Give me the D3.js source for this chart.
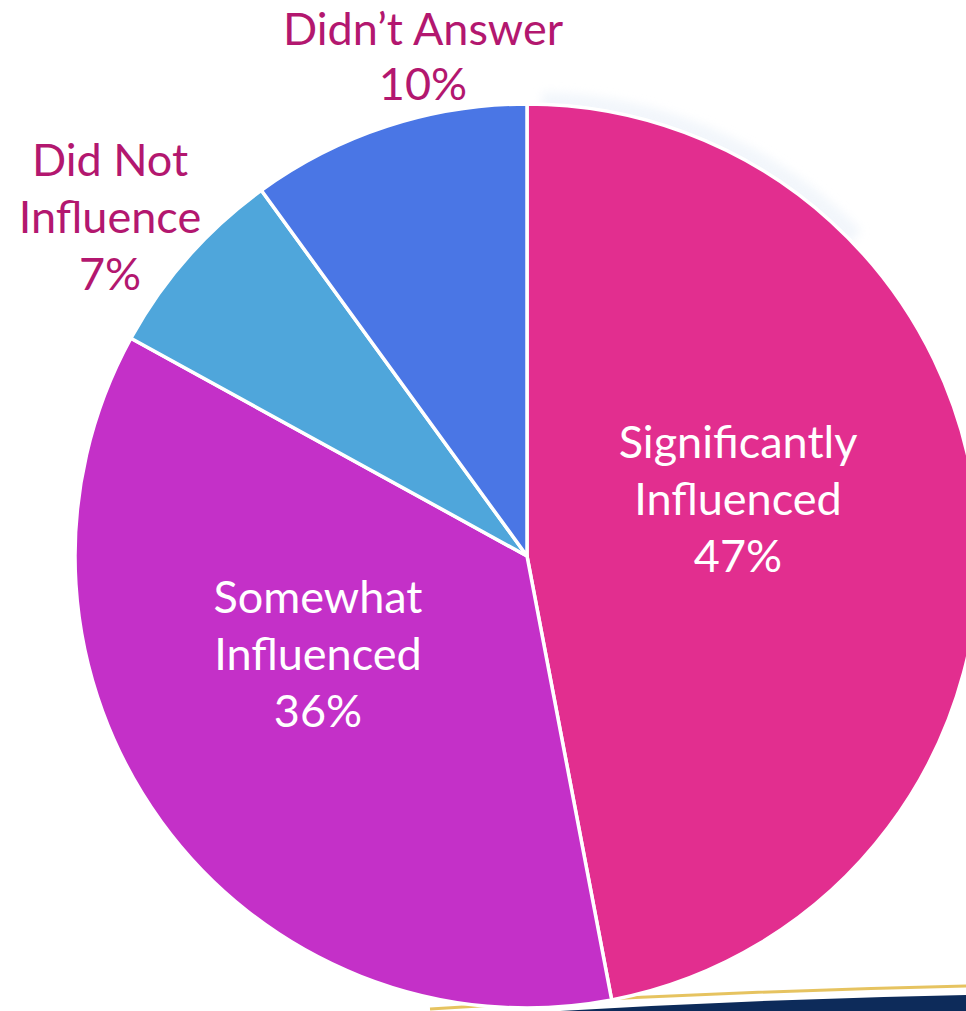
<!DOCTYPE html>
<html>
<head>
<meta charset="utf-8">
<script src="https://cdn.jsdelivr.net/npm/d3@7"></script>
<style>
  html, body { margin: 0; padding: 0; background: #fff; overflow: hidden; }
  svg { display: block; }
</style>
</head>
<body>
<div id="chart"></div>
<script>
// --- data ---------------------------------------------------------------
const categories = ['Significantly Influenced', 'Somewhat Influenced', 'Did Not Influence', "Didn't Answer"];
const shares = [47, 36, 7, 10];
const labelLines = [
    ['Significantly', 'Influenced'],
    ['Somewhat', 'Influenced'],
    ['Did Not', 'Influence'],
    ['Didn\u2019t Answer']
];

// --- layout -------------------------------------------------------------
const width = 966;
const height = 1011;
const cx = 527, cy = 556, radius = 452;
const colors = ['#e22e8f', '#c430c8', '#4fa6db', '#4a76e5'];
const inside = [true, true, false, false];
// label anchor (x of centre, baseline of first line), relative to pie centre
const labelPos = [[211, -98], [-209, 57], [-417, -380], [-104, -511]];
const lineGap = [57, 57, 57, 55];

const mySVG = d3.select('#chart')
    .append('svg')
        .attr('width', width)
        .attr('height', height)
        .attr('viewBox', [0, 0, width, height]);

const defs = mySVG.append('defs');
defs.append('filter')
        .attr('id', 'blur')
        .attr('x', '-20%').attr('y', '-20%')
        .attr('width', '140%').attr('height', '140%')
    .append('feGaussianBlur')
        .attr('stdDeviation', 5);

// slide background decoration (bottom band + gold line)
mySVG.append('path')
    .attr('d', 'M 560 1011 Q 760 999 966 995 L 966 1011 Z')
    .style('fill', '#0d2b5a');
mySVG.append('path')
    .attr('d', 'M 430 1009 Q 700 992 966 986')
    .style('fill', 'none')
    .style('stroke', '#e3bd4f')
    .style('stroke-width', 3)
    .style('opacity', 0.9);

const g = mySVG.append('g')
    .attr('transform', `translate(${cx},${cy})`);

// faint shadow behind the upper right of the pie
g.append('path')
    .attr('d', d3.arc()({innerRadius: radius - 20, outerRadius: radius + 6, startAngle: 0.02, endAngle: 0.8}))
    .attr('transform', 'translate(6,-6)')
    .style('fill', '#e6eef8')
    .style('opacity', 0.5)
    .attr('filter', 'url(#blur)');

const pie = d3.pie()
    .sort(null)
    .value(d => d)
    .startAngle(0)
    .endAngle(2 * Math.PI);

const arc = d3.arc()
    .innerRadius(0)
    .outerRadius(radius);

g.selectAll('path.slice')
    .data(pie(shares))
    .join('path')
        .classed('slice', true)
        .attr('d', arc)
        .style('fill', (d, i) => colors[i])
        .style('stroke', '#fff')
        .style('stroke-width', 3.5)
        .style('stroke-linejoin', 'round');

// --- labels -------------------------------------------------------------
categories.forEach((c, i) => {
    const lines = labelLines[i].concat([shares[i] + '%']);
    const t = g.append('text')
        .attr('text-anchor', 'middle')
        .style('font-family', 'Lato, "Open Sans", sans-serif')
        .style('font-size', '45px')
        .style('fill', inside[i] ? '#ffffff' : '#b3176f');
    lines.forEach((line, j) => {
        t.append('tspan')
            .attr('x', labelPos[i][0])
            .attr('y', labelPos[i][1] + j * lineGap[i])
            .text(line);
    });
});
</script>
</body>
</html>
